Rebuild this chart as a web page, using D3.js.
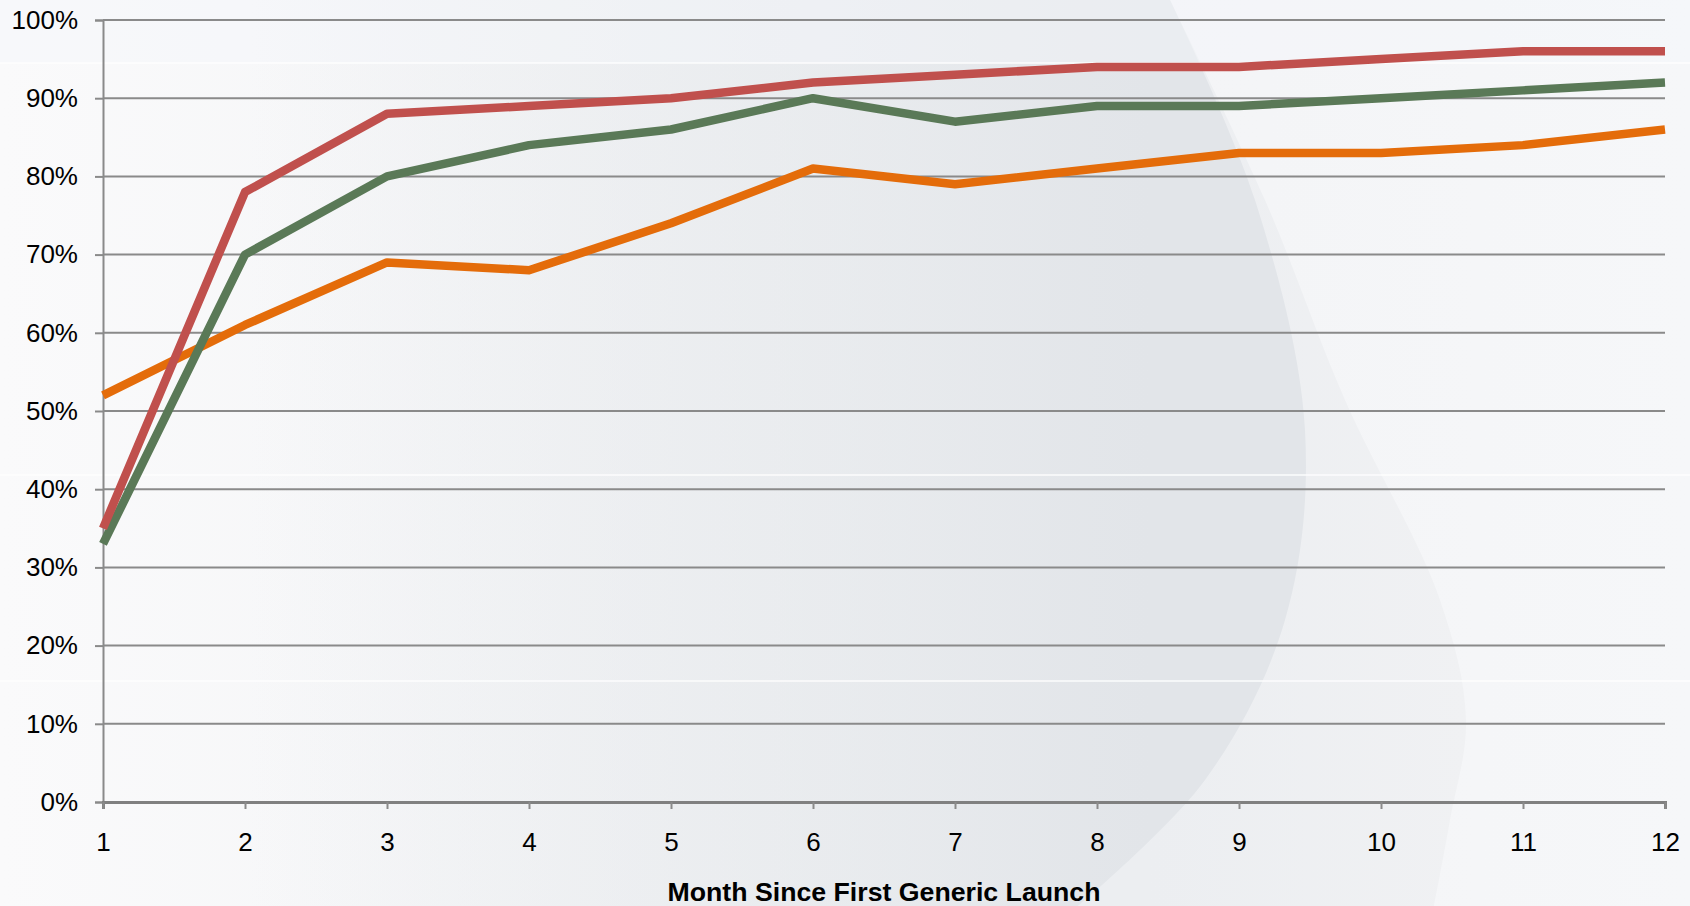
<!DOCTYPE html>
<html>
<head>
<meta charset="utf-8">
<script src="https://cdn.jsdelivr.net/npm/d3@7"></script>
<style>
  html, body { margin: 0; padding: 0; background: #f7f8fa; }
  svg { display: block; }
  text { font-family: "Liberation Sans", Arial, sans-serif; fill: #000; }
</style>
</head>
<body>
<svg id="chart" width="1690" height="906"></svg>
<script>
// ---- Data ----
const months = [1, 2, 3, 4, 5, 6, 7, 8, 9, 10, 11, 12];
const seriesRed    = [35, 78, 88, 89, 90, 92, 93, 94, 94, 95, 96, 96];
const seriesGreen  = [33, 70, 80, 84, 86, 90, 87, 89, 89, 90, 91, 92];
const seriesOrange = [52, 61, 69, 68, 74, 81, 79, 81, 83, 83, 84, 86];
const yTicks = [0, 10, 20, 30, 40, 50, 60, 70, 80, 90, 100];
const xTitle = "Month Since First Generic Launch";

const series = [
  { name: "orange", values: seriesOrange, color: "#E46C0A" },
  { name: "green",  values: seriesGreen,  color: "#5A7957" },
  { name: "red",    values: seriesRed,    color: "#C0504D" }
];

const W = 1690, H = 906;
const margin = { left: 103, right: 25, top: 20, bottom: 104 };
const svg = d3.select("#chart");

// ---- Background (slide decoration) ----
const defs = svg.append("defs");
const bg = defs.append("linearGradient").attr("id", "bgGrad").attr("x1", 0).attr("x2", 1).attr("y1", 0).attr("y2", 0);
bg.append("stop").attr("offset", "0%").attr("stop-color", "#fafafb");
bg.append("stop").attr("offset", "40%").attr("stop-color", "#f3f4f6");
bg.append("stop").attr("offset", "75%").attr("stop-color", "#f4f5f7");
bg.append("stop").attr("offset", "100%").attr("stop-color", "#f6f7f9");
svg.append("rect").attr("width", W).attr("height", H).attr("fill", "url(#bgGrad)");

const dropGrad = defs.append("linearGradient").attr("id", "dropGrad").attr("gradientUnits", "userSpaceOnUse")
  .attr("x1", 250).attr("x2", 1150).attr("y1", 0).attr("y2", 0);
dropGrad.append("stop").attr("offset", "0%").attr("stop-color", "#e5e8eb").attr("stop-opacity", 0);
dropGrad.append("stop").attr("offset", "50%").attr("stop-color", "#e5e8eb").attr("stop-opacity", 0.55);
dropGrad.append("stop").attr("offset", "100%").attr("stop-color", "#e2e5e9").attr("stop-opacity", 1);

const bandGrad = defs.append("linearGradient").attr("id", "bandGrad").attr("gradientUnits", "userSpaceOnUse")
  .attr("x1", 1150).attr("x2", 1470).attr("y1", 0).attr("y2", 0);
bandGrad.append("stop").attr("offset", "0%").attr("stop-color", "#eceef1");
bandGrad.append("stop").attr("offset", "100%").attr("stop-color", "#f0f1f3");

const curve = d3.line().curve(d3.curveCatmullRom.alpha(0.5));
// outer lighter band
const bandPts = [[1170, 0], [1265, 200], [1345, 400], [1440, 600], [1466, 720], [1450, 820], [1434, 906]];
svg.append("path")
  .attr("d", curve(bandPts) + `L1050,906L1050,0Z`)
  .attr("fill", "url(#bandGrad)");
// inner darker drop
const dropPts = [[1170, 0], [1255, 200], [1305, 430], [1285, 620], [1205, 780], [1078, 906]];
svg.append("path")
  .attr("d", curve(dropPts) + `L0,906L0,0Z`)
  .attr("fill", "url(#dropGrad)");
// top light strip
svg.append("rect").attr("x", 0).attr("y", 0).attr("width", W).attr("height", 63).attr("fill", "#f4f7fa").attr("opacity", 0.45);
// faint white horizontal seams
[63, 475, 681].forEach(y => {
  svg.append("line").attr("x1", 0).attr("x2", W).attr("y1", y).attr("y2", y)
    .attr("stroke", "#ffffff").attr("stroke-width", 1.5).attr("opacity", 0.9);
});

// ---- Scales ----
const x = d3.scaleLinear().domain([1, 12]).range([margin.left, W - margin.right]);
const y = d3.scaleLinear().domain([0, 100]).range([H - margin.bottom, margin.top]);

const g = svg.append("g");

// gridlines
g.append("g")
  .selectAll("line")
  .data(yTicks.filter(d => d > 0))
  .join("line")
  .attr("x1", x(1)).attr("x2", x(12))
  .attr("y1", d => y(d)).attr("y2", d => y(d))
  .attr("stroke", "#8a8a8a").attr("stroke-width", 2);

// y axis
const yAxis = g.append("g")
  .attr("transform", `translate(${x(1)},0)`)
  .call(d3.axisLeft(y).tickValues(yTicks).tickFormat(d => d + "%").tickSize(8).tickPadding(17));
yAxis.select(".domain").attr("stroke", "#8a8a8a").attr("stroke-width", 2);
yAxis.selectAll(".tick line").attr("stroke", "#8a8a8a").attr("stroke-width", 2);
yAxis.selectAll("text").attr("font-size", 26).attr("fill", "#000")
  .attr("font-family", '"Liberation Sans", Arial, sans-serif');

// x axis
const xAxis = g.append("g")
  .attr("transform", `translate(0,${y(0)})`)
  .call(d3.axisBottom(x).tickValues(months).tickFormat(d3.format("d")).tickSizeInner(7).tickSizeOuter(7).tickPadding(24));
xAxis.select(".domain").attr("stroke", "#808080").attr("stroke-width", 3);
xAxis.selectAll(".tick line").attr("stroke", "#8a8a8a").attr("stroke-width", 2);
xAxis.selectAll("text").attr("font-size", 26).attr("fill", "#000")
  .attr("font-family", '"Liberation Sans", Arial, sans-serif');

// x title
svg.append("text")
  .attr("x", 884).attr("y", 901)
  .attr("text-anchor", "middle")
  .attr("font-size", 26.7).attr("font-weight", "bold")
  .text(xTitle);

// ---- Lines ----
const line = d3.line().x((d, i) => x(months[i])).y(d => y(d));
g.append("g")
  .selectAll("path")
  .data(series)
  .join("path")
  .attr("d", d => line(d.values))
  .attr("fill", "none")
  .attr("stroke", d => d.color)
  .attr("stroke-width", 8.5)
  .attr("stroke-linejoin", "round")
  .attr("stroke-linecap", "butt");
</script>
</body>
</html>
